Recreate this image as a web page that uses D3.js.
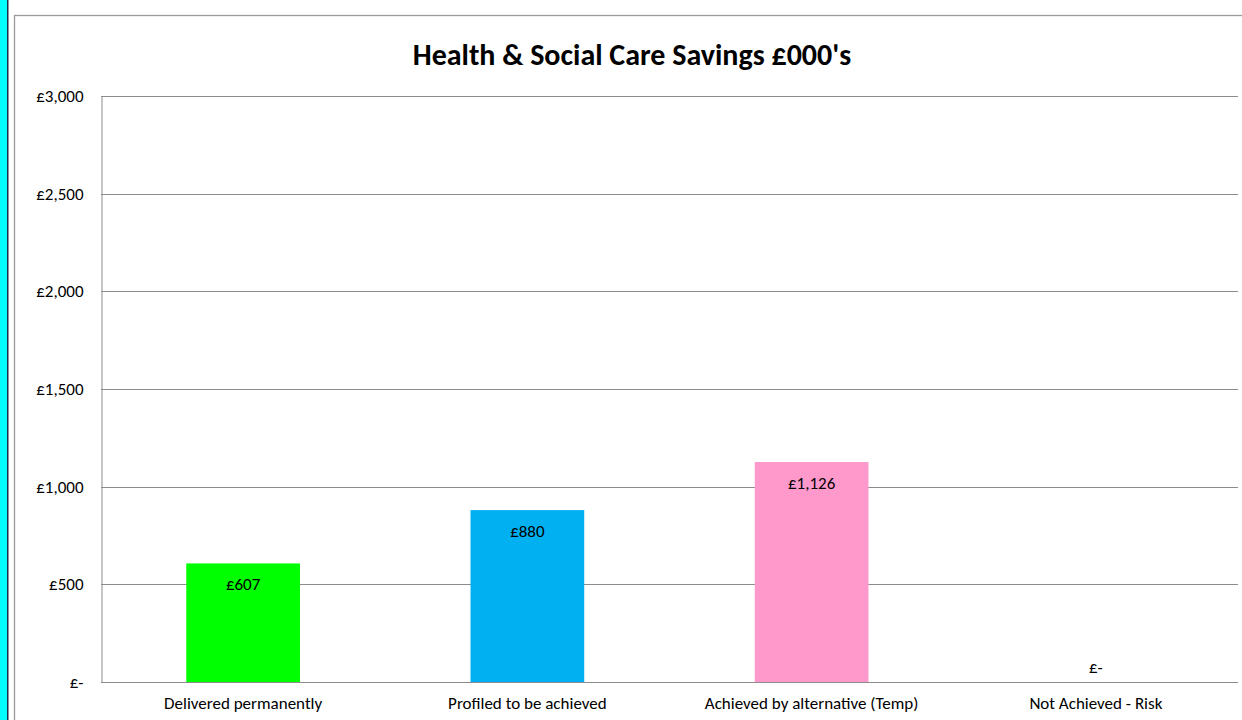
<!DOCTYPE html>
<html>
<head>
<meta charset="utf-8">
<script src="https://cdn.jsdelivr.net/npm/d3@7"></script>
<style>
  html, body { margin: 0; padding: 0; background: #fff; }
  svg { display: block; }
</style>
</head>
<body>
<svg id="chart" width="1242" height="720"></svg>
<script>
// Savings by delivery status, £000's
const categories = ["Delivered permanently", "Profiled to be achieved", "Achieved by alternative (Temp)", "Not Achieved - Risk"];
const savings = [607, 880, 1126, 0];
const barColors = ["#00FF00", "#00B0F0", "#FF99CC", "#C0504D"];
const yTicks = [0, 500, 1000, 1500, 2000, 2500, 3000];
const titleText = "Health & Social Care Savings £000's";

const svg = d3.select("#chart");
const W = 1242, H = 720;
const font = "Carlito, Calibri, 'Open Sans', 'Liberation Sans', sans-serif";

// page background strip and frame
svg.append("rect").attr("x", 0).attr("y", 0).attr("width", W).attr("height", H).attr("fill", "#fff");
svg.append("rect").attr("x", 0).attr("y", 0).attr("width", 7).attr("height", H).attr("fill", "#00FFFF");
svg.append("rect").attr("x", 7).attr("y", 0).attr("width", 1.5).attr("height", H).attr("fill", "#1F2A44");
svg.append("rect").attr("x", 14.5).attr("y", 15.5).attr("width", W + 10).attr("height", H + 10)
  .attr("fill", "#fff").attr("stroke", "#9A9A9A").attr("stroke-width", 1.3);

const plot = { left: 101, top: 96, right: 1238, bottom: 682 };

const x = d3.scaleBand().domain(categories).range([plot.left, plot.right]).paddingInner(0.6).paddingOuter(0.3);
const y = d3.scaleLinear().domain([0, 3000]).range([plot.bottom, plot.top]);

const fmt = v => v === 0 ? "£-" : "£" + d3.format(",")(v);

// gridlines
svg.append("g")
  .selectAll("line").data(yTicks).join("line")
  .attr("x1", plot.left).attr("x2", plot.right)
  .attr("y1", d => Math.round(y(d)) + 0.5).attr("y2", d => Math.round(y(d)) + 0.5)
  .attr("stroke", "#8C8C8C").attr("stroke-width", 1);

// y axis
const yAxis = d3.axisLeft(y).tickValues(yTicks).tickFormat(fmt).tickSize(0).tickPadding(18);
const gy = svg.append("g").attr("transform", `translate(${plot.left + 0.5},0)`).call(yAxis);
gy.select(".domain").attr("stroke", "#8C8C8C");
gy.selectAll("text").attr("font-family", font).attr("font-size", 17).attr("fill", "#000");

// x axis labels
const xAxis = d3.axisBottom(x).tickSize(0).tickPadding(14);
const gx = svg.append("g").attr("transform", `translate(0,${plot.bottom + 0.5})`).call(xAxis);
gx.select(".domain").remove();
gx.selectAll("text").attr("font-family", font).attr("font-size", 17).attr("fill", "#000");

// bars
svg.append("g").selectAll("rect").data(savings).join("rect")
  .attr("x", (d, i) => x(categories[i]))
  .attr("width", x.bandwidth())
  .attr("y", d => y(d))
  .attr("height", d => y(0) - y(d))
  .attr("fill", (d, i) => barColors[i]);

// value labels
svg.append("g").selectAll("text").data(savings).join("text")
  .attr("x", (d, i) => x(categories[i]) + x.bandwidth() / 2)
  .attr("y", d => d === 0 ? y(0) - 9 : y(d) + 27)
  .attr("text-anchor", "middle")
  .attr("font-family", font).attr("font-size", 17).attr("fill", "#000")
  .text(d => fmt(d));

// title
svg.append("text")
  .attr("x", 632).attr("y", 65)
  .attr("text-anchor", "middle")
  .attr("font-family", font).attr("font-size", 30).attr("font-weight", "bold").attr("fill", "#000")
  .text(titleText);
</script>
</body>
</html>
